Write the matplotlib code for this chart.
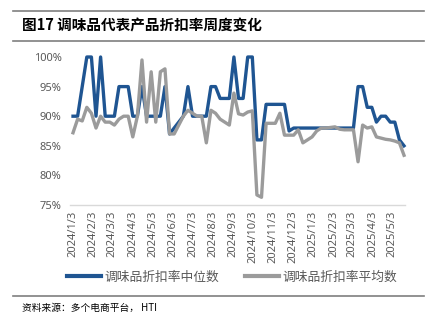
import matplotlib
matplotlib.use("Agg")
import matplotlib.pyplot as plt
import matplotlib.dates as mdates
from matplotlib.lines import Line2D
import pandas as pd
import numpy as np

plt.rcParams['font.family'] = ['Noto Sans CJK SC', 'DejaVu Sans']

start_date = "2024-01-03"
n_weeks = 73

median_vals = [90, 90, 95, 100, 100, 90, 100, 90, 90, 90,
               95, 95, 95, 90, 90, 95, 90, 90, 90, 90,
               95, 87, 88, 89, 90, 95, 90, 90, 90, 90,
               95, 95, 93, 93, 93, 100, 93, 93, 100, 100,
               86, 86, 92, 92, 92, 92, 92, 87.5, 88, 88,
               88, 88, 88, 88, 88, 88, 88, 88, 88, 88,
               88, 88, 95, 95, 91.5, 91.5, 89, 90, 90, 89,
               89, 86, 85]

mean_vals = [87.2, 89.5, 89.2, 91.5, 90.5, 88, 90, 89, 89, 88.5,
             89.5, 90, 90, 86.5, 90, 99.5, 89, 97.5, 89, 97.5,
             98, 87, 87, 88.5, 90, 91, 90.5, 90, 90, 85.5,
             91, 90.5, 89.5, 89, 88.5, 93.9, 90.4, 90.2, 90.7, 90.9,
             76.7, 76.3, 88.8, 88.8, 88.8, 90.5, 86.8, 86.8, 86.8, 87.7,
             85.5, 86, 86.5, 87.5, 88, 88, 88.1, 88.2, 87.8, 87.7,
             87.7, 87.7, 82.3, 88.5, 88, 88.2, 86.5, 86.3, 86.1, 86,
             85.8, 85.5, 83.4]

tick_dates = ["2024-01-03", "2024-02-03", "2024-03-03", "2024-04-03", "2024-05-03",
              "2024-06-03", "2024-07-03", "2024-08-03", "2024-09-03", "2024-10-03",
              "2024-11-03", "2024-12-03", "2025-01-03", "2025-02-03", "2025-03-03",
              "2025-04-03", "2025-05-03"]
tick_labels = ["2024/1/3", "2024/2/3", "2024/3/3", "2024/4/3", "2024/5/3",
               "2024/6/3", "2024/7/3", "2024/8/3", "2024/9/3", "2024/10/3",
               "2024/11/3", "2024/12/3", "2025/1/3", "2025/2/3", "2025/3/3",
               "2025/4/3", "2025/5/3"]
y_ticks = [75, 80, 85, 90, 95, 100]
y_labels = ["75%", "80%", "85%", "90%", "95%", "100%"]

series_names = ["调味品折扣率中位数", "调味品折扣率平均数"]
title = "图17 调味品代表产品折扣率周度变化"
source = "资料来源：多个电商平台， HTI"

dates = pd.date_range(start_date, periods=n_weeks, freq="7D")

fig = plt.figure(figsize=(4.32, 3.25), dpi=100)
ax = fig.add_axes([70/432, 1-205/325, (405-70)/432, (205-57)/325])

blue = "#1F5592"
gray = "#9B9B9B"
ax.plot(dates, median_vals, color=blue, lw=2.4, clip_on=False,
        solid_joinstyle='round', label=series_names[0], zorder=2)
ax.plot(dates, mean_vals, color=gray, lw=2.4, clip_on=False,
        solid_joinstyle='round', label=series_names[1], zorder=3)

ax.set_ylim(75, 100)
ax.set_xlim(dates[0] - pd.Timedelta(days=4.6), dates[-1] + pd.Timedelta(days=1.5))
ax.set_yticks(y_ticks)
ax.set_yticklabels(y_labels, family=['Noto Sans', 'DejaVu Sans'], fontsize=8, color="#595959")
ax.set_xticks(pd.to_datetime(tick_dates))
ax.set_xticklabels(tick_labels, rotation=90, family=['Noto Sans', 'DejaVu Sans'],
                   fontsize=8, color="#595959")
ax.tick_params(axis='both', length=0)
ax.tick_params(axis='y', pad=6)
ax.tick_params(axis='x', pad=4)
for s in ['top', 'right', 'left']:
    ax.spines[s].set_visible(False)
ax.spines['bottom'].set_color("#D9D9D9")
ax.spines['bottom'].set_linewidth(1.0)
ax.patch.set_alpha(0)

leg = fig.legend(loc='center', bbox_to_anchor=(232/432, 1-277/325), ncol=2,
                 frameon=False, fontsize=9.2, handlelength=2.7, handletextpad=0.25,
                 columnspacing=2.0, borderpad=0)
for t in leg.get_texts():
    t.set_color("#595959")
for h in leg.legend_handles:
    h.set_linewidth(3)

fig.add_artist(Line2D([13/432, 424/432], [1-11/325, 1-11/325], color="#7F7F7F", lw=1.2))
fig.add_artist(Line2D([13/432, 424/432], [1-41/325, 1-41/325], color="#7F7F7F", lw=1.2))
fig.add_artist(Line2D([13/432, 424/432], [1-296/325, 1-296/325], color="#7F7F7F", lw=1.2))

fig.text(22/432, 1-26/325, title, fontsize=10.5, fontweight='bold', va='center', ha='left', color='black')
fig.text(22/432, 1-308/325, source, fontsize=7, va='center', ha='left', color='black')

fig.savefig("out.png", dpi=100)
